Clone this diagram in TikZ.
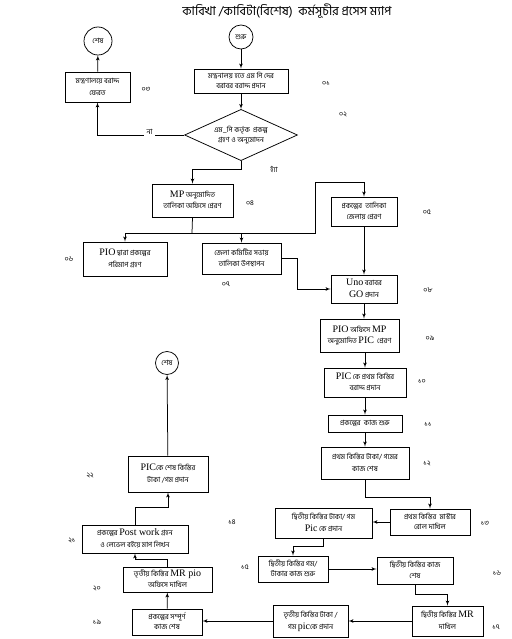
\documentclass[tikz,border=0pt]{standalone}
\usepackage{fontspec}
\setmainfont{Liberation Serif}
\newfontfamily\bn[Script=Bengali]{Hind Siliguri}
\usetikzlibrary{shapes,arrows}
\newcommand{\en}[1]{{\rmfamily\fontsize{10}{10}\selectfont #1}}
\newcommand{\pmbox}[5]{
	\node [draw, fill=white, minimum width=#3bp, minimum height=#4bp, inner sep=0pt] (#1) at (#2) {\begin{tabular}{@{\,}c@{\,}}#5\end{tabular}};}

\begin{document}
\begin{tikzpicture}[x=1bp,y=-1bp,>=latex',line width=0.75bp,
	every node/.style={font=\bn\fontsize{7.2}{11.5}\selectfont}]
	\useasboundingbox (0,0) rectangle (512,639);
	\node [font=\bn\fontsize{12.5}{14}\selectfont] (title) at (287,11) {কাবিখা /কাবিটা(বিশেষ)\ \ কর্মসূচীর প্রসেস ম্যাপ};
	\node [draw, circle, minimum size=28bp, inner sep=0pt] (end1) at (98,41) {শেষ};
	\node [draw, circle, minimum size=24bp, inner sep=0pt] (start) at (241,37) {শুরু};
	\node [draw, circle, minimum size=23bp, inner sep=0pt] (end2) at (167,363) {শেষ};
	\pmbox{b01}{241,81}{94}{24}{মন্ত্রনালয় হতে এম পি দের\\[-1.5bp] বরাবর বরাদ্দ প্রদান}
	\pmbox{b03}{97.5,87}{65}{30}{মন্ত্রণালয়ে বরাদ্দ\\ ফেরত}
	\node [draw, diamond, aspect=2.2, minimum width=109bp, minimum height=49bp, inner sep=0pt] (d02) at (241,135) {\begin{tabular}{c}এম\_পি কর্তৃক\ \ প্রকল্প\\[-1.5bp] গ্রহণ ও অনুমোদন\end{tabular}};
	\pmbox{b04}{192.5,200.5}{81}{33}{\en{MP} অনুমোদিত\\ তালিকা অফিসে প্রেরণ}
	\pmbox{b05}{364,211.5}{66}{29}{প্রকল্পের\ \ তালিকা\\ জেলায় প্রেরণ}
	\pmbox{b06}{125,259}{84}{34}{\en{PIO} দ্বারা প্রকল্পের\\ পরিমাপ গ্রহণ}
	\pmbox{b07}{241.5,258.5}{79}{31}{জেলা কমিটির সভায়\\ তালিকা উপস্থাপন}
	\pmbox{b08}{364,289}{66}{28}{\en{Uno} বরাবর\\ \en{GO} প্রদান}
	\pmbox{b09}{359.5,335.5}{79}{33}{\en{PIO} অফিসে \en{MP}\\ অনুমোদিত \en{PIC}\ \ প্রেরণ}
	\pmbox{b10}{365,382.5}{82}{29}{\en{PIC} কে প্রথম কিস্তির\\ বরাদ্দ প্রদান}
	\pmbox{b11}{365,423.5}{74}{17}{প্রকল্পের\ \ কাজ শুরু}
	\pmbox{b12}{365,463}{88}{32}{প্রথম কিস্তির টাকা/ গমের\\ কাজ শেষ}
	\pmbox{b13}{430,522}{80}{26}{প্রথম কিস্তির\ \ মাস্টার\\[-1bp] রোল দাখিল}
	\pmbox{b14}{323.5,523}{97}{30}{দ্বিতীয় কিস্তির টাকা/ গম\\ \en{Pic} কে প্রদান}
	\pmbox{b15}{293,569}{70}{26}{দ্বিতীয় কিস্তির গম/\\[-1bp] টাকার কাজ শুরু}
	\pmbox{b16}{415,570.5}{76}{27}{দ্বিতীয় কিস্তির কাজ\\[-1bp] শেষ}
	\pmbox{b17}{447.5,621}{71}{30}{দ্বিতীয় কিস্তির \en{MR}\\ দাখিল}
	\pmbox{b18}{310.5,621}{75}{32}{তৃতীয় কিস্তির টাকা /\\ গম \en{pic}কে প্রদান}
	\pmbox{b19}{167,622}{70}{26}{প্রকল্পের সম্পূর্ণ\\[-1bp] কাজ শেষ}
	\pmbox{b20}{167.5,579.5}{89}{25}{তৃতীয় কিস্তির \en{MR pio}\\[-1bp] অফিসে দাখিল}
	\pmbox{b21}{135,539}{106}{28}{প্রকল্পের \en{Post work} গ্রহন\\ ও লেভেল বইয়ে মাপ লিখন}
	\pmbox{b22}{168,474}{80}{36}{\en{PIC}কে শেষ কিস্তির\\ টাকা /গম প্রদান}
	\node (n01) at (326,83) {০১};
	\node (n02) at (343,114) {০২};
	\node (n03) at (146,89) {০৩};
	\node (n04) at (250,203) {০৪};
	\node (n05) at (427,212) {০৫};
	\node (n06) at (69,259) {০৬};
	\node (n07) at (226,284) {০৭};
	\node (n08) at (428,290) {০৮};
	\node (n09) at (430,338) {০৯};
	\node (n10) at (422,381) {১০};
	\node (n11) at (428,424) {১১};
	\node (n12) at (427,463) {১২};
	\node (n13) at (485,523) {১৩};
	\node (n14) at (232,522) {১৪};
	\node (n15) at (245,567) {১৫};
	\node (n16) at (497,573) {১৬};
	\node (n17) at (496,627) {১৭};
	\node (n19) at (97,622) {১৯};
	\node (n20) at (97,588) {২০};
	\node (n21) at (72,540) {২১};
	\node (n22) at (90,475) {২২};
	\node (yes) at (274,169) {হ্যাঁ};
	\coordinate (j04) at (192,233);
	\coordinate (k05) at (315,182);
	\draw [->] (start) -- (b01);
	\draw [->] (b01) -- (d02);
	\draw [->] (d02.west) -| node [pos=0.2, fill=white, inner sep=2.5bp, yshift=3bp] (no) {না} (b03.south);
	\draw [->] (b03) -- (end1);
	\draw [->] (d02.south) -- ++(0,8) -| (b04.north);
	\draw (b04.south) -- (j04);
	\draw [->] (j04) -| (b06.north);
	\draw [->] (j04) -| (b07.north);
	\draw [->] (j04) -| (k05) -| (b05.north);
	\draw [->] (b05) -- (b08);
	\draw [->] (b07.east) -- ++(16,0) |- (b08.west);
	\draw [->] (b08.south) -- (b08.south |- b09.north);
	\draw [->] (b09.south -| b10.north) -- (b10.north);
	\draw [->] (b10) -- (b11);
	\draw [->] (b11) -- (b12);
	\draw [->] (b12.south) -- ++(0,18) -| (b13.north);
	\draw [->] (b13.west) -- (b13.west -| b14.east);
	\draw [->] (b14.south) -- ++(0,8) -| (b15.north);
	\draw [->] (b15.east) -- (b15.east -| b16.west);
	\draw [->] (b16.south) -- ++(0,10) -| (b17.north);
	\draw [->] (b17.west) -- (b17.west -| b18.east);
	\draw [->] (b18.west) -- (b18.west -| b19.east);
	\draw [->] (b19) -- (b20);
	\draw [->] (b20.north) -- ++(0,-7) -| (b21.south);
	\draw [->] (b21.north) -- ++(0,-17) -| (b22.south);
	\draw [->] (b22) -- (end2);
\end{tikzpicture}
\end{document}
